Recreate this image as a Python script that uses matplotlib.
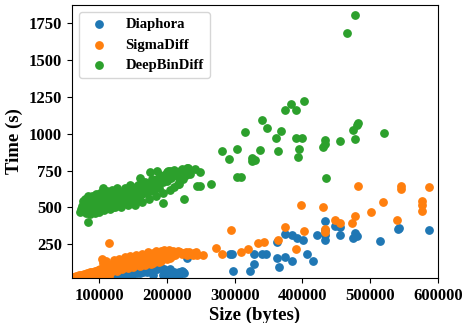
import numpy as np
import matplotlib
matplotlib.use('Agg')
import matplotlib.pyplot as plt

matplotlib.rc('font', family='serif', weight='bold')
matplotlib.rc('font', serif=['Liberation Serif', 'DejaVu Serif'])

# sizes in thousands of bytes, times in seconds
dia_size = [62, 68, 75, 82, 90, 98, 105, 112, 120, 126, 132, 138, 144, 150, 156,
            160, 165, 170, 175, 180, 185, 188, 192, 196, 200, 205, 210, 214, 218,
            222, 225, 229, 205, 195, 180, 219, 224,
            293, 296, 297, 322, 329, 328, 340, 346, 362, 362, 365, 375, 384, 392,
            401, 406, 375, 384, 416, 434, 448, 456, 434, 434, 434, 421, 455, 478,
            481, 474, 514, 543, 541, 587]
dia_time = [22, 25, 24, 28, 26, 30, 28, 33, 35, 40, 38, 45, 50, 48, 58,
            55, 65, 62, 75, 72, 85, 95, 90, 80, 70, 85, 60, 50, 65,
            70, 55, 160, 40, 45, 40, 46, 62,
            187, 187, 70, 70, 116, 187, 187, 187, 266, 160, 95, 323, 316, 296,
            282, 187, 164, 137, 137, 406, 372, 368, 345, 311, 282, 316, 311, 329,
            304, 293, 272, 358, 351, 350]

sig_size = [60, 62, 64, 66, 68, 70, 72, 74, 76, 78, 80, 82, 84, 86, 88, 90, 92,
            94, 96, 98, 100, 102, 104, 106, 108, 110, 112, 114, 116, 118, 120,
            122, 124, 126, 128, 130, 132, 134, 136, 138, 140, 142, 144, 146, 148,
            150, 152, 154, 156, 158, 160, 162, 164, 166, 168, 170, 172, 174, 176,
            178, 180, 182, 184, 186, 188, 190, 192, 194, 196, 198, 200, 203, 206,
            210, 214, 218, 222, 226, 230, 235, 240, 245, 85, 95, 105, 115,
            104, 110, 114, 118, 122, 126, 130, 134, 138, 142, 146, 150, 155, 160,
            164, 168, 172, 176, 180, 184, 188, 192, 196, 200, 204, 208, 212, 216,
            220, 228, 232, 238, 243,
            115, 209, 253, 272, 282, 295, 310, 320, 335, 344, 364, 391, 374, 403,
            398, 430, 433, 433, 448, 455, 473, 477, 482, 501, 519, 539, 545, 545,
            577, 577, 577, 587]
sig_time = [22, 30, 25, 35, 28, 40, 32, 45, 35, 50, 38, 55, 42, 60, 45, 65, 50,
            70, 55, 78, 60, 85, 65, 120, 70, 90, 75, 100, 80, 110, 85,
            95, 130, 90, 105, 100, 115, 95, 140, 110, 100, 125, 105, 150, 115,
            130, 110, 140, 120, 155, 130, 145, 125, 160, 135, 175, 150, 140, 180,
            160, 190, 150, 170, 200, 165, 185, 205, 175, 195, 170, 190, 210, 185,
            200, 190, 195, 185, 190, 180, 185, 190, 175, 22, 25, 30, 35,
            150, 140, 55, 60, 145, 70, 150, 80, 165, 90, 170, 95, 180, 100,
            185, 110, 195, 115, 120, 205, 130, 140, 210, 150, 160, 170, 175, 205,
            195, 200, 195, 175, 200,
            262, 202, 180, 225, 187, 347, 200, 216, 259, 264, 277, 218, 367, 343,
            515, 503, 352, 336, 413, 397, 397, 442, 644, 469, 537, 413, 644, 628,
            542, 515, 474, 639]

dbd_size = [72, 74, 75, 76, 78, 78, 80, 80, 82, 83, 85, 85, 86, 88, 89, 90, 91,
            92, 93, 95, 95, 97, 98, 99, 100, 101, 103, 104, 105, 106, 108, 108,
            110, 111, 113, 114, 115, 117, 118, 120, 121, 122, 124, 125, 127, 128,
            130, 131, 133, 134, 136, 137, 139, 140, 142, 144, 145, 147, 149, 150,
            152, 154, 155, 157, 159, 160, 162, 164, 166, 168, 170, 172, 174, 175,
            177, 179, 181, 183, 185, 186, 188, 190, 192, 194, 196, 198, 200, 202,
            204, 206, 208, 210, 212, 215, 218, 220, 222, 84, 106, 164, 177, 175,
            195, 225, 244, 213, 234, 241, 231, 218, 202,
            76, 79, 82, 84, 87, 90, 94, 96, 100, 102, 107, 112, 116, 119, 123,
            126, 132, 138, 143, 148, 153, 158, 163, 168, 173, 178, 184, 190, 195,
            200, 205, 210, 216, 224, 228, 230, 186, 160, 145, 120,
            249, 249, 265, 281, 292, 303, 303, 310, 316, 325, 330, 326, 337, 341,
            347, 361, 364, 368, 375, 383, 391, 403, 391, 400, 395, 393, 435, 431,
            433, 433, 455, 478, 475, 480, 482, 521, 477, 466]
dbd_time = [470, 490, 510, 480, 530, 500, 460, 545, 520, 495, 480, 555, 510, 530,
            470, 500, 545, 520, 560, 490, 530, 510, 550, 505, 500, 530, 520, 560,
            490, 545, 515, 580, 530, 560, 510, 545, 575, 525, 555, 500, 540, 590,
            520, 560, 600, 540, 575, 525, 555, 595, 540, 570, 610, 550, 585, 530,
            600, 560, 615, 575, 545, 600, 625, 580, 560, 610, 630, 590, 615, 640,
            600, 630, 655, 610, 640, 665, 620, 650, 690, 660, 630, 680, 705, 670,
            700, 730, 680, 710, 745, 700, 730, 755, 720, 740, 700, 745, 760, 401,
            635, 673, 669, 741, 533, 556, 644, 734, 730, 764, 771, 662, 746,
            545, 560, 470, 580, 455, 575, 465, 590, 470, 600, 480, 610, 490, 620,
            500, 630, 505, 630, 515, 640, 520, 650, 535, 675, 560, 690, 575, 720,
            600, 740, 620, 640, 660, 690, 720, 770, 745, 700, 655, 600,
            741, 644, 659, 881, 832, 900, 710, 710, 1012, 838, 825, 815, 888, 1097,
            1037, 974, 886, 1019, 1164, 1205, 1160, 1221, 972, 974, 900, 845, 700,
            911, 934, 956, 954, 968, 1029, 1058, 1076, 1008, 1806, 1684]

fig = plt.figure(figsize=(4.65, 3.23), dpi=100)
ax = fig.add_axes([0.154, 0.140, 0.788, 0.845])
ax.scatter(np.array(dia_size) * 1000, dia_time, s=28, label='Diaphora')
ax.scatter(np.array(sig_size) * 1000, sig_time, s=28, label='SigmaDiff')
ax.scatter(np.array(dbd_size) * 1000, dbd_time, s=28, label='DeepBinDiff')
ax.set_xlim(59500, 600000)
ax.set_ylim(23, 1875)
ax.set_xticks([100000, 200000, 300000, 400000, 500000, 600000])
ax.set_yticks([250, 500, 750, 1000, 1250, 1500, 1750])
ax.tick_params(labelsize=12)
ax.set_xlabel('Size (bytes)', fontsize=13.5, fontweight='bold', labelpad=2)
ax.set_ylabel('Time (s)', fontsize=13.5, fontweight='bold')
ax.legend(loc='upper left', fontsize=10.5)
plt.savefig('out.png', dpi=100)
